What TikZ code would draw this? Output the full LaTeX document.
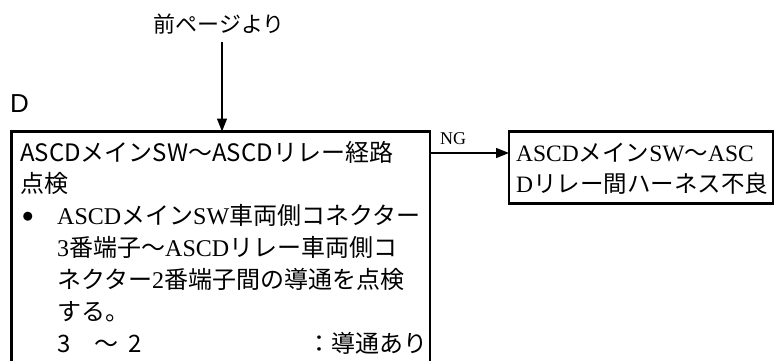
\documentclass[tikz,border=0pt]{standalone}
\usepackage{fontspec}
\setmainfont{Liberation Serif}
\newfontfamily\jp{Noto Sans CJK JP}
\newfontfamily\lsans{Liberation Sans}
\usetikzlibrary{arrows.meta}
\newcommand\ja[1]{{\jp #1}}
\begin{document}
\begin{tikzpicture}[x=1pt,y=-1pt,
  box/.style={draw, line width=2.6pt, rectangle, inner sep=0pt, outer sep=0pt},
  arr/.style={line width=1.4pt, -{Triangle[length=13pt,width=10pt]}},
  txt/.style={anchor=base west, inner sep=0pt, font=\fontsize{24}{28}\selectfont},
  txte/.style={anchor=base east, inner sep=0pt, font=\fontsize{24}{28}\selectfont},
]
\useasboundingbox (0,0) rectangle (776,360);
\clip (0,0) rectangle (776,360);
% boxes
\node[box, anchor=north west, minimum width=418.5pt, minimum height=280pt] (main) at (11.5,131.5) {};
\node[box, anchor=north west, minimum width=264pt, minimum height=72pt] (res) at (509,131.5) {};
% top label and arrow
\node[inner sep=0pt, font=\jp\fontsize{22}{26}\selectfont] (prev) at (219,24) {前ページより};
\coordinate (src) at (222,42);
\draw[arr] (src) -- (src |- main.north);
% section letter
\node[anchor=base west, inner sep=0pt, font=\lsans\fontsize{26}{28}\selectfont] (d) at (10,112) {D};
% NG branch
\coordinate (ngy) at (0,153);
\draw[arr] (main.north east |- ngy) -- (res.west |- ngy);
\node[inner sep=0pt, font=\fontsize{18}{20}\selectfont] (ng) at (453,139) {NG};
% main box text
\node[txt] (l1) at (20,161) {\ja{ASCDメインSW～ASCDリレー経路}};
\node[txt] (l2) at (20,192.5) {\ja{点検}};
\node[inner sep=0pt, font=\jp\fontsize{10}{12}\selectfont] (bul) at (28,217) {●};
\node[txt] (l3) at (57,224) {ASCD\ja{メイン}SW\ja{車両側コネクター}};
\node[txt] (l4) at (57,256) {3\ja{番端子～}ASCD\ja{リレー車両側コ}};
\node[txt] (l5) at (57,288) {\ja{ネクター}2\ja{番端子間の導通を点検}};
\node[txt] (l6) at (57,320) {\ja{する。}};
\node[txt] (l7) at (57,352) {\ja{3\hspace{24pt}～\hspace{10pt}2}};
\node[txte] (l7r) at (428,352) {\ja{：導通あり}};
% result box text
\node[txt, font=\fontsize{23.5}{28}\selectfont] (r1) at (516,161) {ASCD\ja{メイン}SW\ja{～}ASC};
\node[txt, font=\fontsize{23.5}{28}\selectfont] (r2) at (516,192.5) {D\ja{リレー間ハーネス不良}};
\end{tikzpicture}
\end{document}
